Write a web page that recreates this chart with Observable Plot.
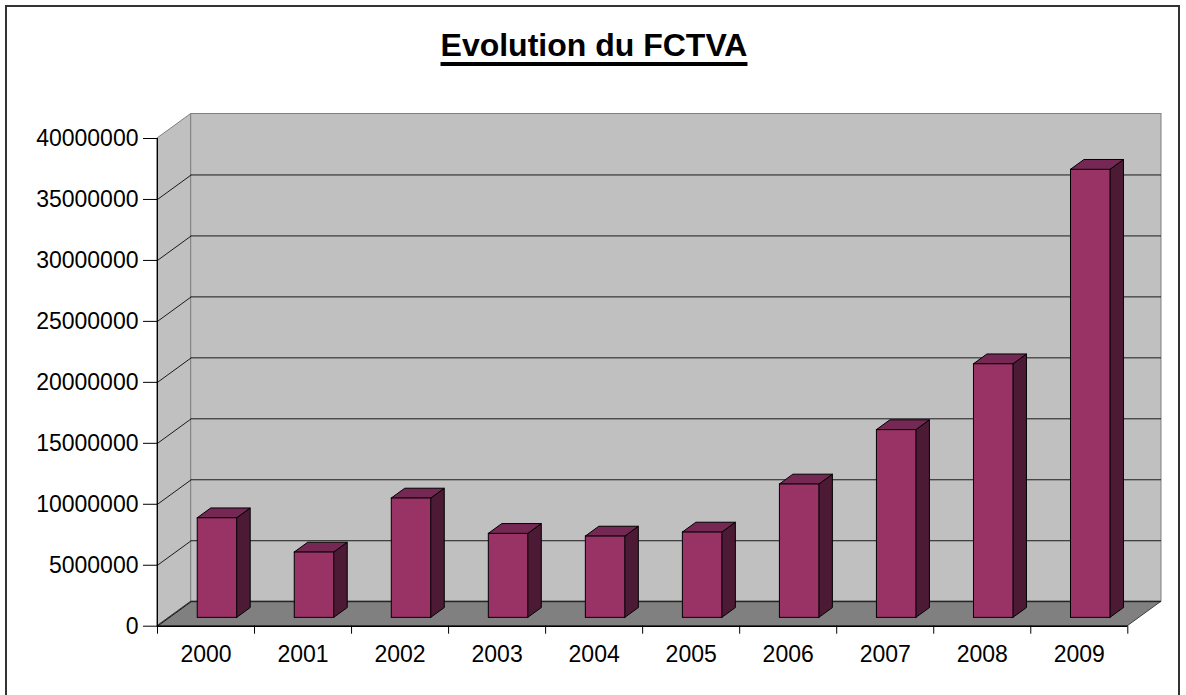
<!DOCTYPE html>
<html>
<head>
<meta charset="utf-8">
<script src="https://cdn.jsdelivr.net/npm/d3@7"></script>
<script src="https://cdn.jsdelivr.net/npm/@observablehq/plot@0.6"></script>
<style>
  html, body { margin: 0; padding: 0; background: #fff; overflow: hidden; }
  #wrap { position: relative; width: 1186px; height: 695px; }
  #chart { position: absolute; left: 0; top: 0; }
  #title {
    position: absolute; left: 1px; top: 29px; width: 1186px; text-align: center;
    font-family: "Liberation Sans", Arial, sans-serif; font-weight: bold; font-size: 32px;
    line-height: 32px; color: #000;
    text-decoration: underline; text-decoration-thickness: 4px; text-underline-offset: 6px;
  }
  #border {
    position: absolute; left: 5px; top: 5px; width: 1175px; height: 710px;
    box-sizing: border-box; border: 2px solid #333; pointer-events: none; z-index: 3;
  }
</style>
</head>
<body>
<div id="wrap">
  <div id="chart"></div>
  <div id="title">Evolution du FCTVA</div>
  <div id="border"></div>
</div>
<script>
const years = ["2000", "2001", "2002", "2003", "2004", "2005", "2006", "2007", "2008", "2009"];
const values = [8170000, 5360000, 9790000, 6890000, 6670000, 7000000, 10940000, 15400000, 20800000, 36750000];
const yTicks = [0, 5000000, 10000000, 15000000, 20000000, 25000000, 30000000, 35000000, 40000000];

const W = 1186, H = 695;
const mL = 157, mR = 58.7, mT = 138, mB = 69.3;
const yMax = yTicks[yTicks.length - 1];
const nCat = years.length;
const pxPerX = (W - mL - mR) / nCat;
const pxPerY = (H - mT - mB) / yMax;
const DX = 33.7 / pxPerX;   // chart depth in x units
const DY = 24.5 / pxPerY;   // chart depth in y units
const F0 = 0.34, FB = 0.4, BW = 0.407;

const bars = years.map((year, i) => ({
  year, v: values[i],
  x1: i + 0.5 - BW / 2 + F0 * DX,
  x2: i + 0.5 + BW / 2 + F0 * DX,
  y0: F0 * DY
}));
const sidePts = bars.flatMap(d => [
  {year: d.year, x: d.x2, y1: d.y0, y2: d.v + d.y0},
  {year: d.year, x: d.x2 + FB * DX, y1: d.y0 + FB * DY, y2: d.v + d.y0 + FB * DY}
]);
const topPts = bars.flatMap(d => [
  {year: d.year, y: d.v + d.y0, x1: d.x1, x2: d.x2},
  {year: d.year, y: d.v + d.y0 + FB * DY, x1: d.x1 + FB * DX, x2: d.x2 + FB * DX}
]);
const gridTicks = yTicks.slice(0, -1);

const plot = Plot.plot({
  width: W, height: H,
  marginLeft: mL, marginRight: mR, marginTop: mT, marginBottom: mB,
  x: {type: "linear", domain: [0, nCat], label: null},
  y: {type: "linear", domain: [0, yMax], label: null},
  style: {background: "transparent", fontFamily: "'Liberation Sans', Arial, sans-serif", fontSize: "23px", color: "black", overflow: "visible"},
  marks: [
    // left wall
    Plot.areaY([{x: 0, y1: 0, y2: yMax}, {x: DX, y1: DY, y2: yMax + DY}], {x: "x", y1: "y1", y2: "y2", fill: "#c0c0c0", stroke: "#808080"}),
    // back wall
    Plot.rect([0], {x1: () => DX, x2: () => nCat + DX, y1: () => DY, y2: () => yMax + DY, fill: "#c0c0c0", stroke: "#808080"}),
    // floor
    Plot.areaX([{y: 0, x1: 0, x2: nCat}, {y: DY, x1: DX, x2: nCat + DX}], {y: "y", x1: "x1", x2: "x2", fill: "#808080", stroke: "#404040"}),
    // gridlines
    Plot.ruleY(gridTicks, {y: d => d + DY, x1: () => DX, x2: () => nCat + DX, stroke: "#1a1a1a"}),
    Plot.link(gridTicks, {x1: () => 0, y1: d => d, x2: () => DX, y2: d => d + DY, stroke: "#1a1a1a"}),
    // bars
    Plot.areaY(sidePts, {x: "x", y1: "y1", y2: "y2", z: "year", fill: "#4d1a35", stroke: "#000", strokeWidth: 1}),
    Plot.areaX(topPts, {y: "y", x1: "x1", x2: "x2", z: "year", fill: "#762855", stroke: "#000", strokeWidth: 1}),
    Plot.rect(bars, {x1: "x1", x2: "x2", y1: "y0", y2: d => d.v + d.y0, fill: "#993366", stroke: "#000", strokeWidth: 1}),
    // front axes
    Plot.ruleX([0], {y1: () => 0, y2: () => yMax, stroke: "#000"}),
    Plot.ruleY([0], {x1: () => 0, x2: () => nCat, stroke: "#000", strokeWidth: 1.5}),
    Plot.axisY(yTicks, {tickSize: 14, tickPadding: 5, tickFormat: d => String(d), fontSize: 23, label: null, stroke: "#000"}),
    Plot.axisX(d3.range(nCat + 1), {tickSize: 8, tickFormat: () => "", label: null, stroke: "#000"}),
    Plot.text(years, {x: (d, i) => i + 0.5, y: () => 0, dy: 28, fontSize: 23, fill: "#000"})
  ]
});
document.getElementById("chart").appendChild(plot);
</script>
</body>
</html>
